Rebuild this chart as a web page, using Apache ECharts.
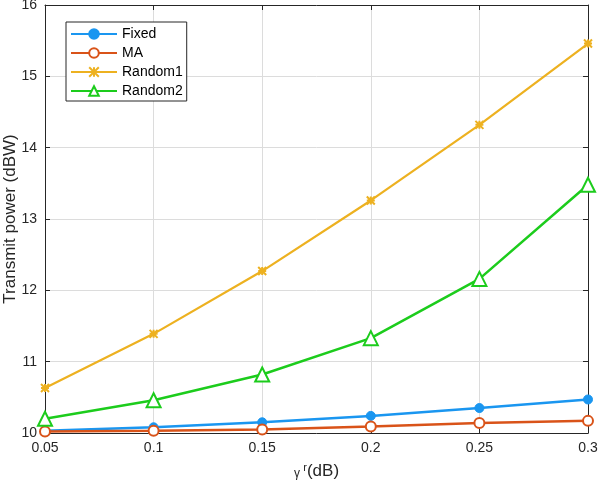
<!DOCTYPE html>
<html>
<head>
<meta charset="utf-8">
<script src="https://cdn.jsdelivr.net/npm/echarts@6/dist/echarts.min.js"></script>
<style>html,body{margin:0;padding:0;background:#fff;}#c{width:598px;height:480px;}</style>
</head>
<body>
<div id="c"></div>
<script>
var xValues = [0.05, 0.1, 0.15, 0.2, 0.25, 0.3];
var fixedVals = [10.03, 10.08, 10.15, 10.24, 10.35, 10.47];
var maVals = [10.02, 10.03, 10.05, 10.09, 10.14, 10.17];
var random1Vals = [10.63, 11.39, 12.27, 13.26, 14.32, 15.46];
var random2Vals = [10.20, 10.46, 10.82, 11.33, 12.16, 13.48];
var seriesNames = ['Fixed', 'MA', 'Random1', 'Random2'];

function pairs(vals){ return xValues.map(function(x,i){return [x, vals[i]];}); }

var font = 'Liberation Sans, Arial, sans-serif';
var chart = echarts.init(document.getElementById('c'));
var axisLine = {show:true, lineStyle:{color:'#262626', width:1}};
var tick = {show:true, inside:true, length:5, lineStyle:{color:'#262626'}};
var split = {show:true, lineStyle:{color:'#dcdcdc', width:1}};
var crossPath = 'path://M0,0L10,10M10,0L0,10M5,0L5,10M0,5L10,5';

chart.setOption({
  animation:false,
  backgroundColor:'#fff',
  textStyle:{fontFamily:font},
  grid:{left:45, right:10, top:5, bottom:47, containLabel:false, outerBoundsMode:'none'},
  legend:{
    show:true, orient:'vertical', left:66, top:22,
    data:seriesNames,
    itemWidth:46, itemHeight:12, itemGap:5,
    backgroundColor:'#fff', borderColor:'#262626', borderWidth:1,
    padding:[5,4,3,4],
    textStyle:{fontSize:14, color:'#000', fontFamily:font}
  },
  xAxis:[{
    type:'value', min:0.05, max:0.3, interval:0.05,
    axisLine:axisLine, axisTick:tick, splitLine:split,
    axisLabel:{color:'#262626', fontSize:14, margin:8, fontFamily:font,
      formatter:function(v){return String(Math.round(v*100)/100);}},
    name:'{g|γ }{b|r}{a|(dB)}', nameLocation:'middle', nameGap:29, nameMoveOverlap:false,
    nameTextStyle:{rich:{a:{fontSize:17, color:'#262626', fontFamily:font},
                          g:{fontSize:12, color:'#262626', fontFamily:font, padding:[4,0,0,0]},
                          b:{fontSize:11, color:'#262626', fontFamily:font, padding:[0,0,8,0]}}}
  },{
    type:'value', position:'top', min:0.05, max:0.3, interval:0.05,
    axisLine:axisLine, axisTick:tick, splitLine:{show:false}, axisLabel:{show:false}
  }],
  yAxis:[{
    type:'value', min:10, max:16, interval:1,
    axisLine:axisLine, axisTick:tick, splitLine:split,
    axisLabel:{color:'#262626', fontSize:14, margin:8, fontFamily:font},
    name:'Transmit power (dBW)', nameLocation:'middle', nameGap:26, nameMoveOverlap:false,
    nameTextStyle:{fontSize:17, color:'#262626', fontFamily:font}
  },{
    type:'value', position:'right', min:10, max:16, interval:1,
    axisLine:axisLine, axisTick:tick, splitLine:{show:false}, axisLabel:{show:false}
  }],
  series:[
    {name:'Fixed', type:'line', data:pairs(fixedVals), clip:false,
     symbol:'circle', symbolSize:9,
     lineStyle:{color:'#1a96f0', width:2.5},
     itemStyle:{color:'#1a96f0', borderColor:'#1a96f0', borderWidth:1}},
    {name:'MA', type:'line', data:pairs(maVals), clip:false,
     symbol:'emptyCircle', symbolSize:10,
     lineStyle:{color:'#d95319', width:2.5},
     itemStyle:{color:'#d95319', borderColor:'#d95319', borderWidth:2.5}},
    {name:'Random1', type:'line', data:pairs(random1Vals), clip:false,
     symbol:crossPath, symbolSize:8,
     lineStyle:{color:'#edb120', width:2.2},
     itemStyle:{color:'rgba(0,0,0,0)', borderColor:'#edb120', borderWidth:2}},
    {name:'Random2', type:'line', data:pairs(random2Vals), clip:false,
     symbol:'emptyTriangle', symbolSize:14,
     lineStyle:{color:'#1ccc1c', width:2.5},
     itemStyle:{color:'#1ccc1c', borderColor:'#1ccc1c', borderWidth:2.5}}
  ]
});
</script>
</body>
</html>
